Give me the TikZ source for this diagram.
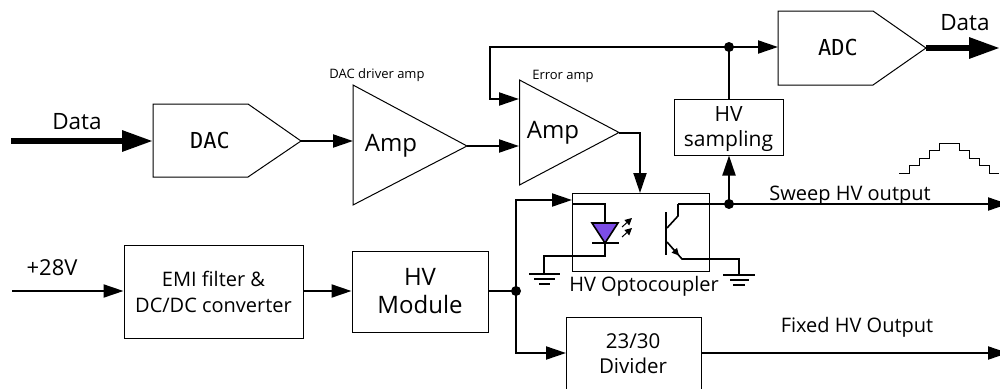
\documentclass[tikz,border=0pt]{standalone}
\usepackage{fontspec}
\setmainfont{Open Sans}
\newfontfamily\monof{DejaVu Sans Mono}
\usetikzlibrary{arrows.meta}
\definecolor{ledpurple}{RGB}{124,77,230}
\newcommand{\fsz}[2][]{\fontsize{#2}{#2}\selectfont}
\newcommand{\fsb}[2]{\fontsize{#1}{#2}\selectfont}
\tikzset{
  x=1pt,y=-1pt,
  box/.style={draw,line width=1pt,inner sep=0pt,align=center},
  shape outline/.style={draw,line width=1pt,line join=miter},
  lbl/.style={inner sep=0pt},
  wire/.style={line width=2pt},
  thin wire/.style={line width=1.6pt},
  awire/.style={line width=2pt,-{Triangle[length=20pt,width=13pt]}},
  fat/.style={line width=6pt,-{Triangle[length=31pt,width=20pt]}},
  small arrow/.style={line width=1pt,-{Triangle[length=7pt,width=7pt]}},
  dot/.style={circle,fill=black,inner sep=0pt,minimum size=10pt},
}
\begin{document}
\begin{tikzpicture}
\useasboundingbox (0,0) rectangle (1000,388);
% named ports
\coordinate (dataL) at (11,141);
\coordinate (dacIn) at (153,141);
\coordinate (dacOut) at (301,141);
\coordinate (amp1In) at (353,141);
\coordinate (amp1Out) at (467,146);
\coordinate (amp2In) at (519,146);
\coordinate (amp2Fb) at (519,99);
\coordinate (amp2Out) at (619,132.5);
\coordinate (adcIn) at (778,47);
\coordinate (adcOut) at (926,48);
\coordinate (dataR) at (1000,48);
\coordinate (fbA) at (490,47);
\coordinate (fbB) at (490,99);
\coordinate (optoTop) at (640,193);
\coordinate (pwrL) at (12,291);
\coordinate (sweepR) at (1008,204);
\coordinate (fixedR) at (1008,353);
% pentagons
\draw[shape outline] (153,104) -- (248,104) -- (301,141) -- (248,177) -- (153,177) -- cycle;
\node[inner sep=0pt,font=\monof\fsz{22}] (dac) at (210,140) {DAC};
\draw[shape outline] (778,11) -- (873,11) -- (926,48) -- (873,85) -- (778,85) -- cycle;
\node[inner sep=0pt,font=\monof\fsz{22}] (adc) at (838,47) {ADC};
% amps
\draw[shape outline] (353,85) -- (353,205) -- (467,146) -- cycle;
\node[lbl,font=\fsz{24}] (amp1) at (391,146) {Amp};
\draw[shape outline] (519.5,80) -- (519.5,185) -- (619,132.5) -- cycle;
\node[lbl,font=\fsz{24}] (amp2) at (553,133) {Amp};
\node[lbl,font=\fsz{13}] (dacdrv) at (377,75) {DAC driver amp};
\node[lbl,font=\fsz{13}] (erramp) at (563,76) {Error amp};
% boxes
\node[box,minimum width=109pt,minimum height=56pt,font=\fsb{21}{25}] (hvs) at (728.5,127) {\rule{0pt}{20pt}HV\\sampling};
\node[box,minimum width=179pt,minimum height=93pt,font=\fsb{20}{26}] (emi) at (213.5,291.5) {EMI filter \&\\DC/DC converter};
\node[box,minimum width=136pt,minimum height=81pt,font=\fsb{24}{28}] (hvm) at (420,291.5) {HV\\Module};
\draw[line width=1pt] (566,392) -- (566,317) -- (701,317) -- (701,392);
\node[lbl,align=center,font=\fsb{20.5}{25}] (div) at (633,353.5) {23/30\\Divider};
\node[draw,line width=1pt,minimum width=137pt,minimum height=78pt,inner sep=0pt] (opto) at (640.5,232) {};
% labels
\node[lbl,font=\fsz{22.5}] (lData) at (77,122) {Data};
\node[lbl,font=\fsz{22.5}] (rData) at (965,23) {Data};
\node[lbl,font=\fsz{22}] (l28) at (52,268) {+28V};
\node[lbl,font=\fsz{20}] (lOpto) at (644,286) {HV Optocoupler};
\node[lbl,font=\fsz{20}] (lSweep) at (850,195.5) {Sweep HV output};
\node[lbl,font=\fsz{20}] (lFixed) at (857,327) {Fixed HV Output};
% connectors
\draw[fat] (dataL) -- (dacIn);
\draw[fat] (adcOut) -- (dataR);
\draw[awire] (dacOut) -- (amp1In);
\draw[awire] (amp1Out) -- (amp2In);
\node[dot] (j1) at (729,47) {};
\draw[awire,line join=miter] (j1.center) -- (fbA) -- (fbB) -- (amp2Fb);
\draw[awire] (j1.center) -- (adcIn);
\draw[wire] (hvs.north -| j1) -- (j1.center);
\draw[awire] (amp2Out) -| (optoTop);
\node[dot] (j2) at (729,204) {};
\draw[awire] (j2.center) -- (hvs.south -| j2);
\draw[awire] (678,204) -- (sweepR);
\draw[thin wire,line join=miter] (678,204) -- (678,216) -- (667,228);
\draw[awire] (pwrL) -- (emi.west |- pwrL);
\draw[awire] (emi.east |- pwrL) -- (hvm.west |- pwrL);
\node[dot] (j3) at (516,291) {};
\draw[wire] (hvm.east |- j3) -- (j3.center);
\coordinate (optoIn) at (572,200);
\coordinate (divIn) at (566,353);
\draw[awire] (j3.center) |- (optoIn);
\draw[awire] (j3.center) |- (divIn);
\draw[awire] (701,353) -- (fixedR);
% LED
\draw[thin wire,line join=miter] (572,204) -- (605,204) -- (605,223);
\draw[thin wire,fill=ledpurple,line join=miter] (592,223) -- (618,223) -- (605,243) -- cycle;
\draw[thin wire] (592,243) -- (619,243);
\draw[thin wire,line join=miter] (605,243) -- (605,256) -- (544,256) -- (544,274);
\draw[small arrow] (622,227) -- (632,218);
\draw[small arrow] (622,237) -- (632,228);
% ground left
\draw[thin wire] (529,274) -- (560,274);
\draw[thin wire] (534,279) -- (555,279);
\draw[thin wire] (539,284) -- (550,284);
% transistor
\draw[line width=2pt] (666,212) -- (666,255);
\draw[thin wire,line join=miter] (667,242) -- (682,259) -- (739,259) -- (739,275);
\draw[small arrow] (670,245.5) -- (679,255.5);
% ground right
\draw[thin wire] (723,275) -- (755,275);
\draw[thin wire] (730,280) -- (749,280);
\draw[thin wire] (733,285) -- (745,285);
% staircase
\draw[line width=1pt] (899,173) -- (909,173) -- (909,165) -- (919,165) -- (919,158) -- (929,158) -- (929,150) -- (939,150) -- (939,143) -- (959,143) -- (959,150) -- (969,150) -- (969,158) -- (979,158) -- (979,165) -- (989,165) -- (989,173) -- (999,173);
\end{tikzpicture}
\end{document}
